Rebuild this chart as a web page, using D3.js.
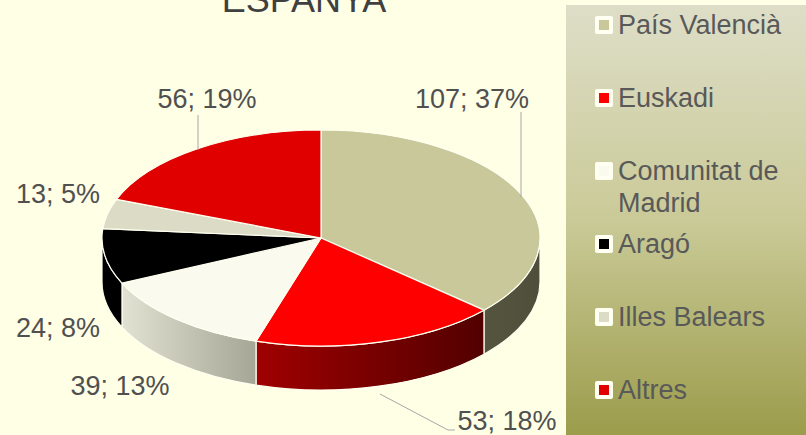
<!DOCTYPE html>
<html>
<head>
<meta charset="utf-8">
<script src="https://cdn.jsdelivr.net/npm/d3@7"></script>
<style>
  html, body { margin: 0; padding: 0; background: #FFFFE6; }
  svg { display: block; font-family: "Liberation Sans", Arial, sans-serif; }
</style>
</head>
<body>
<svg id="chart" width="806" height="435"></svg>
<script>
// data
var title = 'ESPANYA';
var categories = ['País Valencià', 'Euskadi', 'Comunitat de Madrid', 'Aragó', 'Illes Balears', 'Altres'];
var values = [107, 53, 39, 24, 13, 56];
var percents = [37, 18, 13, 8, 5, 19];
var topColors = ['#C8C89A', '#FF0000', '#FAFAEE', '#000000', '#DCDCC6', '#E00000'];
// side shading: [left, right]
var sideColors = [['#55553F', '#4E4E3A'], ['#A00000', '#520000'], ['#E2E2D2', '#A6A696'], ['#000000', '#000000'], ['#C8C8B0', '#A8A890'], ['#A00000', '#600000']];

var W = 806, H = 435;
var cx = 321, cy = 238, rx = 219, ry = 108, depth = 44;
var k = ry / rx;

var svg = d3.select('#chart');
var defs = svg.append('defs');

// legend background
var lg = defs.append('linearGradient').attr('id', 'legendBg')
  .attr('x1', 0).attr('y1', 0).attr('x2', 0).attr('y2', 1);
lg.append('stop').attr('offset', '0%').attr('stop-color', '#DEDEC8');
lg.append('stop').attr('offset', '50%').attr('stop-color', '#CACA98');
lg.append('stop').attr('offset', '100%').attr('stop-color', '#9C9C4C');

svg.append('rect').attr('x', 566).attr('y', 5).attr('width', W - 566).attr('height', H - 5)
  .attr('fill', 'url(#legendBg)');

// title (cut off at the top, as in the original)
svg.append('text').attr('x', 304).attr('y', 12).attr('text-anchor', 'middle')
  .attr('font-size', 36).attr('fill', '#404040').text(title);

var pie = d3.pie().sort(null).value(function (d) { return d; });
var arcs = pie(values);

// pie group scaled vertically to make the ellipse
var g = svg.append('g').attr('transform', 'translate(' + cx + ',' + cy + ') scale(1,' + k + ')');

function sidePath(a0, a1) {
  var p = d3.path();
  var s = a0 - Math.PI / 2, e = a1 - Math.PI / 2;
  var dz = depth / k;
  p.moveTo(rx * Math.cos(s), rx * Math.sin(s));
  p.arc(0, 0, rx, s, e, false);
  p.lineTo(rx * Math.cos(e), rx * Math.sin(e) + dz);
  p.arc(0, dz, rx, e, s, true);
  p.closePath();
  return p.toString();
}

// front sides (angles between 90° and 270°)
arcs.forEach(function (d, i) {
  var a0 = Math.max(d.startAngle, Math.PI / 2);
  var a1 = Math.min(d.endAngle, 3 * Math.PI / 2);
  if (a1 <= a0) return;
  var x0 = rx * Math.sin(a0), x1 = rx * Math.sin(a1);
  var gid = 'side' + i;
  var grad = defs.append('linearGradient').attr('id', gid)
    .attr('gradientUnits', 'userSpaceOnUse')
    .attr('x1', Math.min(x0, x1)).attr('x2', Math.max(x0, x1)).attr('y1', 0).attr('y2', 0);
  grad.append('stop').attr('offset', '0%').attr('stop-color', sideColors[i][0]);
  grad.append('stop').attr('offset', '100%').attr('stop-color', sideColors[i][1]);
  g.append('path').attr('d', sidePath(a0, a1))
    .attr('fill', 'url(#' + gid + ')')
    .attr('stroke', '#FFFFF0').attr('stroke-width', 1.2)
    .attr('vector-effect', 'non-scaling-stroke');
});

// top faces
var arc = d3.arc().innerRadius(0).outerRadius(rx);
g.selectAll('path.top').data(arcs).enter().append('path')
  .attr('class', 'top')
  .attr('d', arc)
  .attr('fill', function (d, i) { return topColors[i]; })
  .attr('stroke', '#FFFFF0').attr('stroke-width', 1.2)
  .attr('vector-effect', 'non-scaling-stroke');

// data labels
var labelPos = [[472, 108, 'middle'], [507, 430, 'middle'], [120, 395, 'middle'], [58, 337, 'middle'], [58, 203, 'middle'], [207, 108, 'middle']];
var leaders = [
  [[521, 112], [521, 197]],
  [[380, 394], [448, 430], [455, 430]],
  null, null, null,
  [[198, 115], [198, 150]]
];
var line = d3.line();
leaders.forEach(function (pts) {
  if (!pts) return;
  svg.append('path').attr('d', line(pts)).attr('fill', 'none')
    .attr('stroke', '#A6A6A6').attr('stroke-width', 1);
});
svg.selectAll('text.lbl').data(arcs).enter().append('text')
  .attr('class', 'lbl')
  .attr('x', function (d, i) { return labelPos[i][0]; })
  .attr('y', function (d, i) { return labelPos[i][1]; })
  .attr('text-anchor', function (d, i) { return labelPos[i][2]; })
  .attr('font-size', 27).attr('fill', '#505050')
  .text(function (d, i) { return d.value + '; ' + percents[i] + '%'; });

// legend
var legendY = d3.scalePoint().domain(categories).range([25, 390]);
var leg = svg.selectAll('g.leg').data(categories).enter().append('g')
  .attr('class', 'leg')
  .attr('transform', function (d) { return 'translate(595,' + legendY(d) + ')'; });
leg.append('rect').attr('x', 0).attr('y', -9).attr('width', 18).attr('height', 18)
  .attr('rx', 2).attr('fill', '#FFFFF2');
leg.append('rect').attr('x', 4).attr('y', -5).attr('width', 10).attr('height', 10)
  .attr('fill', function (d, i) { return topColors[i]; });
leg.append('text').attr('x', 23).attr('y', 9)
  .attr('font-size', 27).attr('fill', '#595959')
  .each(function (d) {
    var t = d3.select(this);
    if (d === 'Comunitat de Madrid') {
      t.append('tspan').attr('x', 23).attr('dy', 0).text('Comunitat de');
      t.append('tspan').attr('x', 23).attr('dy', 32).text('Madrid');
    } else {
      t.text(d);
    }
  });
</script>
</body>
</html>
